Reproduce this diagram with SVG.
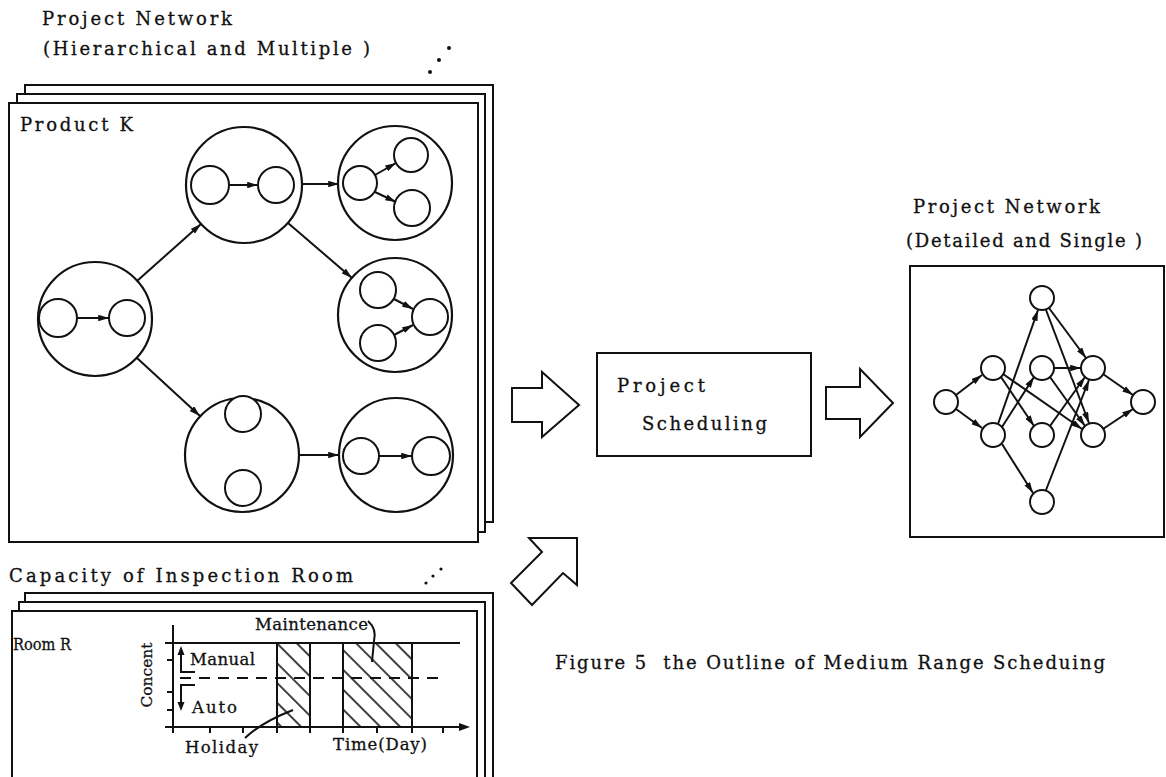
<svg xmlns="http://www.w3.org/2000/svg" width="1166" height="777" viewBox="0 0 1166 777">
  <style>
    .ln { fill: none; stroke: #111; stroke-width: 2; }
    .pg { fill: #fff; stroke: #111; stroke-width: 2; }
    .nd { fill: #fff; stroke: #111; stroke-width: 2; }
    .ar { fill: none; stroke: #111; stroke-width: 2; marker-end: url(#head); }
    .big { fill: #fff; stroke: #111; stroke-width: 2.2; }
    .tw { font-family: "DejaVu Serif", "Liberation Serif", serif; fill: #111; stroke: #111; stroke-width: 0.3; white-space: pre; }
    .t17 { font-size: 18px; }
    .t15 { font-size: 16.5px; }
    .t14 { font-size: 15px; }
  </style>
  <defs>
    <marker id="head" viewBox="0 0 10 6" refX="10" refY="3" markerWidth="11" markerHeight="6.5" markerUnits="userSpaceOnUse" orient="auto">
      <path d="M0,0 L10,3 L0,6 Z" fill="#111"/>
    </marker>
    <pattern id="hatch" patternUnits="userSpaceOnUse" width="14" height="14" patternTransform="rotate(45)">
      <line x1="0" y1="7" x2="14" y2="7" stroke="#111" stroke-width="1.6"/>
    </pattern>
  </defs>

  <rect width="1166" height="777" fill="#fff"/>

  <!-- hierarchical network stack -->
  <g id="stack-network">
    <text class="tw t17" x="42" y="25" textLength="190" lengthAdjust="spacing">Project Network</text>
    <text class="tw t17" x="43" y="55" textLength="327" lengthAdjust="spacing">(Hierarchical and Multiple )</text>
    <circle cx="430" cy="72" r="2" fill="#111"/>
    <circle cx="439" cy="60" r="2" fill="#111"/>
    <circle cx="449" cy="48" r="2" fill="#111"/>
    <polyline class="ln" points="25,94 25,85 493,85 493,522 485,522"/>
    <polyline class="ln" points="17,103 17,94 485,94 485,532 478,532"/>
    <rect class="pg" x="9" y="103" width="469" height="439"/>
    <text class="tw t17" x="20" y="131" textLength="113" lengthAdjust="spacing">Product K</text>
  </g>

  <!-- sub-networks of Product K -->
  <g id="sub-left">
    <circle class="big" cx="95" cy="319" r="57"/>
    <circle class="nd" cx="58" cy="318" r="19"/>
    <circle class="nd" cx="127" cy="318" r="18"/>
  </g>
  <g id="sub-top">
    <circle class="big" cx="244" cy="185" r="58"/>
    <circle class="nd" cx="210" cy="185" r="19"/>
    <circle class="nd" cx="276" cy="185" r="18"/>
  </g>
  <g id="sub-top-right">
    <circle class="big" cx="395" cy="183" r="57"/>
    <circle class="nd" cx="360" cy="183" r="17"/>
    <circle class="nd" cx="411" cy="155" r="17"/>
    <circle class="nd" cx="412" cy="208" r="18"/>
  </g>
  <g id="sub-mid-right">
    <circle class="big" cx="395" cy="315" r="57"/>
    <circle class="nd" cx="378" cy="290" r="18"/>
    <circle class="nd" cx="430" cy="317" r="18"/>
    <circle class="nd" cx="378" cy="343" r="18"/>
  </g>
  <g id="sub-bottom">
    <circle class="big" cx="242" cy="455" r="57"/>
    <circle class="nd" cx="243" cy="414" r="18"/>
    <circle class="nd" cx="243" cy="488" r="18"/>
  </g>
  <g id="sub-bottom-right">
    <circle class="big" cx="396" cy="455" r="57"/>
    <circle class="nd" cx="361" cy="456" r="18"/>
    <circle class="nd" cx="431" cy="456" r="19"/>
  </g>

  <g id="edges-product">
    <line class="ar" x1="137" y1="281" x2="201" y2="224"/>
    <line class="ar" x1="137" y1="358" x2="200" y2="416"/>
    <line class="ar" x1="302" y1="184" x2="339" y2="184"/>
    <line class="ar" x1="288" y1="223" x2="352" y2="278"/>
    <line class="ar" x1="299" y1="455" x2="339" y2="455"/>
    <line class="ar" x1="77" y1="318" x2="109" y2="318"/>
    <line class="ar" x1="229" y1="185" x2="258" y2="185"/>
    <line class="ar" x1="375" y1="175" x2="396" y2="163"/>
    <line class="ar" x1="375" y1="192" x2="396" y2="202"/>
    <line class="ar" x1="394" y1="299" x2="413" y2="309"/>
    <line class="ar" x1="394" y1="335" x2="413" y2="325"/>
    <line class="ar" x1="379" y1="456" x2="412" y2="456"/>
  </g>

  <!-- inspection room capacity stack -->
  <g id="stack-room">
    <text class="tw t17" x="9" y="582" textLength="344" lengthAdjust="spacing">Capacity of Inspection Room</text>
    <circle cx="426" cy="583" r="1.6" fill="#111"/>
    <circle cx="433" cy="576" r="1.6" fill="#111"/>
    <circle cx="441" cy="569" r="1.6" fill="#111"/>
    <polyline class="ln" points="25,602 25,593 493,593 493,777"/>
    <polyline class="ln" points="19,611 19,602 485,602 485,777"/>
    <rect class="pg" x="12" y="611" width="465" height="200"/>
    <text class="tw t15" x="13" y="650" textLength="58" lengthAdjust="spacingAndGlyphs">Room R</text>
  </g>

  <g id="capacity-chart">
    <rect x="277" y="643" width="33" height="84" fill="url(#hatch)"/>
    <rect x="343" y="643" width="69" height="84" fill="url(#hatch)"/>
    <line class="ln" x1="173" y1="625" x2="173" y2="733"/>
    <line class="ln" x1="165" y1="643" x2="460" y2="643"/>
    <line class="ln" x1="180" y1="678" x2="445" y2="678" stroke-dasharray="11 8"/>
    <line class="ln" x1="165" y1="727" x2="462" y2="727"/>
    <path d="M470,727 L459,723 L459,731 Z" fill="#111"/>
    <path class="ln" d="M167,660 H173 M167,692 H173 M167,710 H173"/>
    <path class="ln" d="M210,727 V733 M243,727 V733 M377,727 V733 M443,727 V733"/>
    <path class="ln" d="M277,643 V733 M310,643 V733 M343,643 V733 M412,643 V733"/>
    <polyline class="ln" points="195,672 181,672 181,652"/>
    <path d="M181,646 L177.5,655 L184.5,655 Z" fill="#111"/>
    <polyline class="ln" points="195,685 181,685 181,704"/>
    <path d="M181,711 L177.5,702 L184.5,702 Z" fill="#111"/>
    <text class="tw t15" x="190" y="665" textLength="65" lengthAdjust="spacing">Manual</text>
    <text class="tw t15" x="192" y="713" textLength="45" lengthAdjust="spacing">Auto</text>
    <text class="tw t14" x="152" y="675" text-anchor="middle" transform="rotate(-90 152 675)" textLength="65" lengthAdjust="spacingAndGlyphs">Concent</text>
    <text class="tw t15" x="255" y="630" textLength="113" lengthAdjust="spacing">Maintenance</text>
    <path class="ln" d="M368,621 Q377,629 374,641 L372,662" stroke-width="1.5"/>
    <path class="ln" d="M245,738 Q262,722 293,710" stroke-width="1.5"/>
    <text class="tw t15" x="185" y="753" textLength="73" lengthAdjust="spacing">Holiday</text>
    <text class="tw t15" x="333" y="750" textLength="94" lengthAdjust="spacing">Time(Day)</text>
  </g>

  <!-- scheduling step -->
  <g id="scheduling">
    <rect class="pg" x="597" y="353" width="214" height="103"/>
    <text class="tw t17" x="617" y="392" textLength="88" lengthAdjust="spacing">Project</text>
    <text class="tw t17" x="642" y="430" textLength="125" lengthAdjust="spacing">Scheduling</text>
  </g>

  <g id="flow-arrows">
    <polygon class="pg" points="512,388 542,388 542,372 579,405 542,437 542,422 512,422"/>
    <polygon class="pg" points="826,387 860,387 860,369 893,403 860,437 860,419 826,419"/>
    <polygon class="pg" points="577,538 529,538 542,552 511,583 532,605 563,573 577,585"/>
  </g>

  <!-- detailed single network -->
  <g id="network-detailed">
    <text class="tw t17" x="913" y="213" textLength="187" lengthAdjust="spacing">Project Network</text>
    <text class="tw t17" x="906" y="247" textLength="236" lengthAdjust="spacing">(Detailed and Single )</text>
    <rect class="pg" x="910" y="266" width="254" height="271"/>
  </g>

  <g id="edges-detailed">
    <line class="ar" x1="956" y1="395" x2="982" y2="375"/>
    <line class="ar" x1="956" y1="409" x2="982" y2="428"/>
    <line class="ar" x1="998" y1="424" x2="1038" y2="310"/>
    <line class="ar" x1="1002" y1="427" x2="1034" y2="377"/>
    <line class="ar" x1="1002" y1="444" x2="1033" y2="493"/>
    <line class="ar" x1="1001" y1="377" x2="1034" y2="426"/>
    <line class="ar" x1="1003" y1="374" x2="1082" y2="429"/>
    <line class="ar" x1="1049" y1="308" x2="1086" y2="358"/>
    <line class="ar" x1="1046" y1="310" x2="1089" y2="423"/>
    <line class="ar" x1="1054" y1="368" x2="1081" y2="368"/>
    <line class="ar" x1="1050" y1="377" x2="1085" y2="426"/>
    <line class="ar" x1="1050" y1="426" x2="1085" y2="377"/>
    <line class="ar" x1="1046" y1="490" x2="1089" y2="380"/>
    <line class="ar" x1="1103" y1="374" x2="1133" y2="395"/>
    <line class="ar" x1="1103" y1="429" x2="1133" y2="409"/>
  </g>
  <g id="nodes-detailed">
    <circle class="nd" cx="946" cy="402" r="12"/>
    <circle class="nd" cx="993" cy="368" r="12"/>
    <circle class="nd" cx="993" cy="435" r="12"/>
    <circle class="nd" cx="1042" cy="298" r="12"/>
    <circle class="nd" cx="1042" cy="368" r="12"/>
    <circle class="nd" cx="1042" cy="435" r="12"/>
    <circle class="nd" cx="1042" cy="502" r="12"/>
    <circle class="nd" cx="1093" cy="368" r="12"/>
    <circle class="nd" cx="1093" cy="435" r="12"/>
    <circle class="nd" cx="1143" cy="402" r="12"/>
  </g>

  <g id="caption">
    <text class="tw t17" x="555" y="669" textLength="550" lengthAdjust="spacing">Figure 5  the Outline of Medium Range Scheduing</text>
  </g>
</svg>
